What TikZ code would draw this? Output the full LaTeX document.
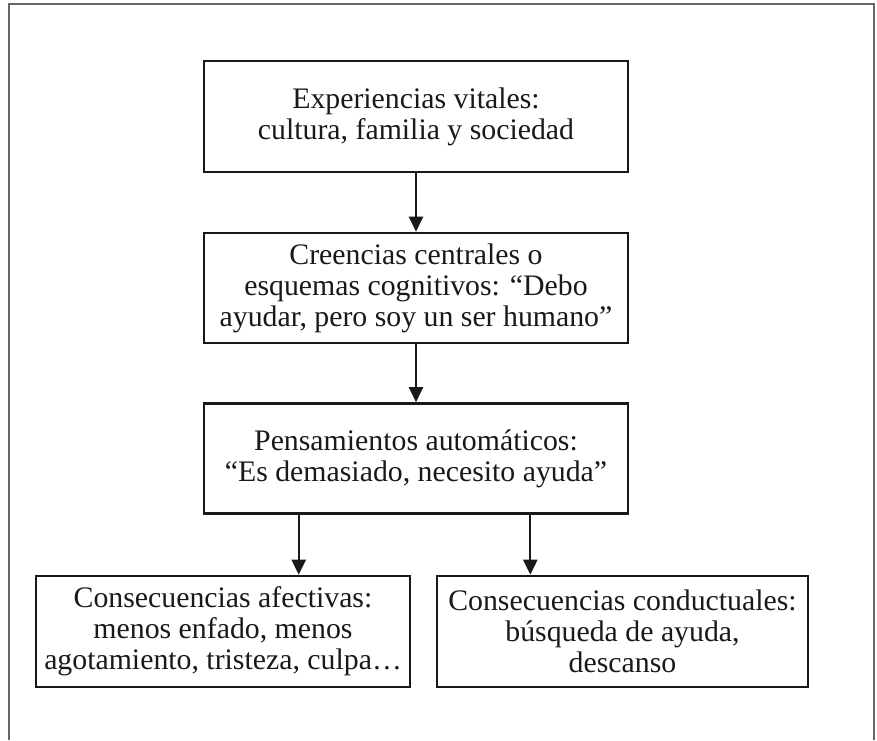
\documentclass[tikz,border=0pt]{standalone}
\usepackage{fontspec}
\setmainfont{Liberation Serif}
\usetikzlibrary{arrows.meta}
\begin{document}
\begin{tikzpicture}[x=1pt,y=-1pt,
  box/.style={draw=black!90,line width=2.6pt,align=center,inner sep=0pt,
    font=\fontsize{29.8}{31}\selectfont,text=black!90},
  arr/.style={draw=black!90,line width=2.2pt,-{Triangle[length=15pt,width=14pt]}},
  frame/.style={draw=black!60,line width=1.5pt}]
\useasboundingbox (0,0) rectangle (877,740);
\draw[frame] (9,740) -- (9,4) -- (874,4) -- (874,740);
\node[box,minimum width=424pt,minimum height=111pt] (b1) at (416,116.5)
  {Experiencias vitales:\\cultura, familia y sociedad};
\node[box,minimum width=424pt,minimum height=110pt] (b2) at (416,288)
  {Creencias centrales o\\esquemas cognitivos: “Debo\\ayudar, pero soy un ser humano”};
\node[box,minimum width=424pt,minimum height=110pt] (b3) at (416,458.5)
  {Pensamientos automáticos:\\“Es demasiado, necesito ayuda”};
\node[box,minimum width=374pt,minimum height=111pt] (b4) at (223,631.5)
  {Consecuencias afectivas:\\menos enfado, menos\\agotamiento, tristeza, culpa…};
\node[box,minimum width=371pt,minimum height=111pt] (b5) at (622.5,631.5)
  {Consecuencias conductuales:\\búsqueda de ayuda,\\descanso};
\draw[arr] (b1.south) -- (b2.north);
\draw[arr] (b2.south) -- (b3.north);
\draw[arr] ([xshift=96pt]b3.south west) -- ([xshift=96pt]b3.south west |- b4.north);
\draw[arr] ([xshift=-99pt]b3.south east) -- ([xshift=-99pt]b3.south east |- b5.north);
\end{tikzpicture}
\end{document}
